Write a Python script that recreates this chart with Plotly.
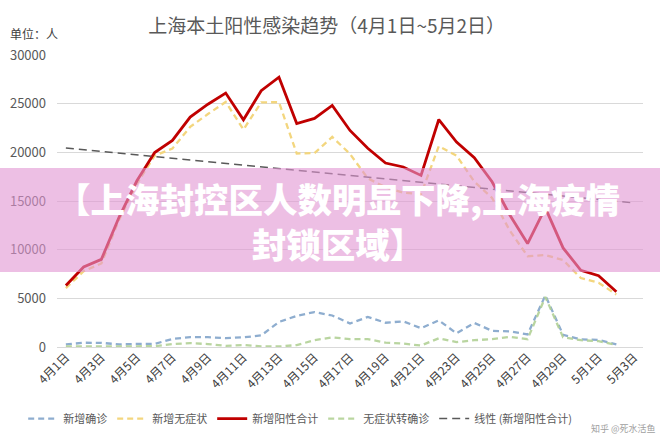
import plotly.graph_objects as go

dates = [f"4月{d}日" for d in range(1, 31)] + ["5月1日", "5月2日"]
all_dates = dates + ["5月3日"]
tick_labels = [all_dates[i] for i in range(0, 33, 2)]

confirmed = [260, 438, 425, 268, 311, 322, 824, 1015, 1006, 914, 994, 1189, 2573, 3200, 3590, 3238,
             2417, 3084, 2494, 2634, 1931, 2736, 1401, 2472, 1661, 1606, 1292, 5300, 1249, 788, 727, 274]
asymptomatic = [6051, 7788, 8581, 13086, 16766, 19660, 20398, 22609, 23937, 25173, 22348, 25141, 25146,
                19872, 19923, 21582, 19831, 17332, 16407, 15861, 15698, 20634, 19657, 16983, 15319,
                11956, 9330, 9450, 8932, 7084, 6606, 5395]
total_positive = [6311, 8226, 9006, 13354, 17077, 19982, 21222, 23624, 24944, 26087, 23342, 26330, 27719,
                  22962, 23486, 24820, 22248, 20416, 18901, 18495, 17629, 23370, 21058, 19455, 16980,
                  13562, 10622, 14300, 10181, 7872, 7333, 5669]
asym_to_confirmed = [50, 60, 80, 60, 60, 80, 300, 400, 300, 120, 200, 60, 50, 200, 700, 1000,
                     800, 800, 450, 350, 150, 900, 500, 700, 800, 1050, 800, 5150, 1000, 700, 600, 200]
trend_x = ["4月1日", "5月3日"]
trend_y = [20450, 14800]

FONT = "Noto Sans CJK SC"

fig = go.Figure()
fig.add_trace(go.Scatter(x=dates, y=confirmed, name="新增确诊", mode="lines",
                         line=dict(color="#8EADCF", width=2.3, dash="6px,4px")))
fig.add_trace(go.Scatter(x=dates, y=asymptomatic, name="新增无症状", mode="lines",
                         line=dict(color="#F3D67E", width=2.3, dash="6px,4px")))
fig.add_trace(go.Scatter(x=dates, y=total_positive, name="新增阳性合计", mode="lines",
                         line=dict(color="#C00000", width=2.8)))
fig.add_trace(go.Scatter(x=dates, y=asym_to_confirmed, name="无症状转确诊", mode="lines",
                         line=dict(color="#B2D196", width=2.3, dash="6px,4px"), opacity=0.9))
fig.add_trace(go.Scatter(x=trend_x, y=trend_y, name="线性 (新增阳性合计)", mode="lines",
                         line=dict(color="#595959", width=1.4, dash="8px,5px")))

fig.update_layout(
    width=660, height=440,
    margin=dict(l=57, r=17, t=55, b=93, autoexpand=False),
    paper_bgcolor="white", plot_bgcolor="white",
    font=dict(family=FONT, size=11, color="#595959"),
    title=dict(text="上海本土阳性感染趋势（4月1日~5月2日）", x=0.495, xanchor="center",
               y=0.94, yanchor="middle", font=dict(family=FONT, size=19, color="#595959")),
    showlegend=True,
    legend=dict(orientation="h", x=0.415, xanchor="center", y=-0.245, yanchor="middle",
                font=dict(family=FONT, size=11, color="#595959"), itemwidth=30,
                tracegroupgap=0, bgcolor="rgba(0,0,0,0)"),
    xaxis=dict(type="category", categoryorder="array", categoryarray=all_dates,
               range=[-0.5, 32.5], tickmode="array", tickvals=tick_labels, ticktext=tick_labels,
               tickangle=-45, showgrid=False, showline=False, zeroline=False, ticks="",
               tickfont=dict(family=FONT, size=12, color="#404040")),
    yaxis=dict(range=[0, 30000], tickvals=[0, 5000, 10000, 15000, 20000, 25000, 30000],
               tickformat="d", showgrid=True, gridcolor="#D9D9D9", gridwidth=1,
               zeroline=True, zerolinecolor="#D9D9D9", zerolinewidth=1, showline=False,
               ticks="", ticklabelstandoff=10,
               tickfont=dict(family=FONT, size=13, color="#595959")),
)

fig.add_annotation(text="单位：人", xref="paper", yref="paper", x=-0.083, y=1.075,
                   xanchor="left", yanchor="middle", showarrow=False,
                   font=dict(family=FONT, size=12, color="#404040"))

# pink banner overlay
fig.add_shape(type="rect", xref="paper", yref="paper", x0=-0.1, x1=1.03, y0=0.257, y1=0.613,
              fillcolor="rgba(225,148,210,0.6)", line=dict(width=0), layer="above")
fig.add_annotation(text="【上海封控区人数明显下降,上海疫情<br>封锁区域】", xref="paper", yref="paper",
                   x=0.48, y=(347 - 220.5) / 292, xanchor="center", yanchor="middle", showarrow=False,
                   align="center",
                   font=dict(family=FONT, size=34.5, color="white", weight=900))

fig.add_annotation(text="知乎 @死水活鱼", xref="paper", yref="paper", x=1.025, y=-0.28,
                   xanchor="right", yanchor="middle", showarrow=False,
                   font=dict(family=FONT, size=9, color="#A0A0A0"))

fig.write_html("out.html")
